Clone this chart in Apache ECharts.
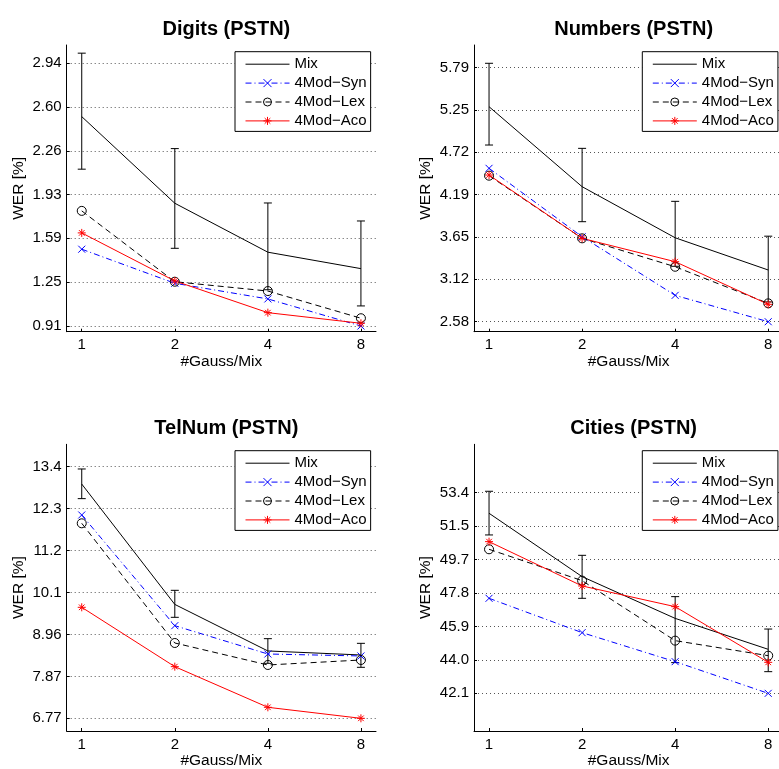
<!DOCTYPE html>
<html>
<head>
<meta charset="utf-8">
<script src="https://cdn.jsdelivr.net/npm/echarts@6/dist/echarts.min.js"></script>
<style>html,body{margin:0;padding:0;background:#fff;}#chart{width:779px;height:769px;}</style>
</head>
<body>
<div id="chart"></div>
<script>
// ---- data ----
const gaussCounts = [1, 2, 4, 8];
const legendNames = ['Mix', '4Mod\u2212Syn', '4Mod\u2212Lex', '4Mod\u2212Aco'];
const panelTitles = ['Digits (PSTN)', 'Numbers (PSTN)', 'TelNum (PSTN)', 'Cities (PSTN)'];
const xAxisName = '#Gauss/Mix';
const yAxisName = 'WER [%]';

const digitsMix = [2.527, 1.858, 1.48, 1.353];
const digitsMixLow = [2.121, 1.51, 1.19, 1.065];
const digitsMixHigh = [3.017, 2.28, 1.86, 1.721];
const digitsSyn = [1.503, 1.24, 1.119, 0.91];
const digitsLex = [1.799, 1.252, 1.18, 0.97];
const digitsAco = [1.629, 1.258, 1.013, 0.931];
const digitsTickValues = [0.91, 1.248, 1.587, 1.925, 2.263, 2.602, 2.94];
const digitsTickLabels = ['0.91', '1.25', '1.59', '1.93', '2.26', '2.60', '2.94'];
const digitsRange = [0.866, 3.08];

const numbersMix = [5.295, 4.285, 3.64, 3.233];
const numbersMixLow = [4.811, 3.843, 3.28, 2.83];
const numbersMixHigh = [5.843, 4.769, 4.1, 3.66];
const numbersSyn = [4.517, 3.653, 2.913, 2.58];
const numbersLex = [4.424, 3.633, 3.274, 2.812];
const numbersAco = [4.432, 3.633, 3.338, 2.80];
const numbersTickValues = [2.58, 3.115, 3.65, 4.185, 4.72, 5.255, 5.79];
const numbersTickLabels = ['2.58', '3.12', '3.65', '4.19', '4.72', '5.25', '5.79'];
const numbersRange = [2.454, 6.074];

const telnumMix = [12.94, 9.77, 8.544, 8.438];
const telnumMixLow = [12.556, 9.43, 8.219, 8.113];
const telnumMixHigh = [13.337, 10.141, 8.868, 8.745];
const telnumSyn = [12.125, 9.21, 8.464, 8.412];
const telnumLex = [11.906, 8.754, 8.175, 8.306];
const telnumAco = [9.694, 8.131, 7.06, 6.77];
const telnumTickValues = [6.77, 7.875, 8.98, 10.085, 11.19, 12.295, 13.4];
const telnumTickLabels = ['6.77', '7.87', '8.96', '10.1', '11.2', '12.3', '13.4'];
const telnumRange = [6.436, 13.987];

const citiesMix = [52.237, 48.67, 46.32, 44.578];
const citiesMixLow = [51.017, 47.45, 43.83, 43.32];
const citiesMixHigh = [53.476, 49.87, 47.544, 45.72];
const citiesSyn = [47.45, 45.517, 43.883, 42.1];
const citiesLex = [50.21, 48.445, 45.066, 44.22];
const citiesAco = [50.64, 48.145, 46.98, 43.846];
const citiesTickValues = [42.1, 43.983, 45.867, 47.75, 49.633, 51.517, 53.4];
const citiesTickLabels = ['42.1', '44.0', '45.9', '47.8', '49.7', '51.5', '53.4'];
const citiesRange = [39.98, 56.12];

// ---- build ----
const FONT = 'Liberation Sans';
const panels = [
  {mix: digitsMix, lo: digitsMixLow, hi: digitsMixHigh, syn: digitsSyn, lex: digitsLex, aco: digitsAco, tv: digitsTickValues, tl: digitsTickLabels, range: digitsRange},
  {mix: numbersMix, lo: numbersMixLow, hi: numbersMixHigh, syn: numbersSyn, lex: numbersLex, aco: numbersAco, tv: numbersTickValues, tl: numbersTickLabels, range: numbersRange},
  {mix: telnumMix, lo: telnumMixLow, hi: telnumMixHigh, syn: telnumSyn, lex: telnumLex, aco: telnumAco, tv: telnumTickValues, tl: telnumTickLabels, range: telnumRange},
  {mix: citiesMix, lo: citiesMixLow, hi: citiesMixHigh, syn: citiesSyn, lex: citiesLex, aco: citiesAco, tv: citiesTickValues, tl: citiesTickLabels, range: citiesRange}
];
const gridPos = [
  {left: 66.7, top: 45},
  {left: 474, top: 45},
  {left: 66.7, top: 444.3},
  {left: 474, top: 444.3}
];
const GW = 309.3, GH = 286.7;

const pairs = (ys) => gaussCounts.map((g, i) => [g, ys[i]]);
const SYM_X = 'path://M0,0L10,10M10,0L0,10';
const SYM_STAR = 'path://M5,0L5,10M0,5L10,5M1.5,1.5L8.5,8.5M8.5,1.5L1.5,8.5';

function renderErr(params, api) {
  const x = api.value(0), lo = api.value(1), hi = api.value(2);
  const a = api.coord([x, lo]), b = api.coord([x, hi]);
  const cap = 4;
  const st = {stroke: '#000', lineWidth: 1};
  return {type: 'group', children: [
    {type: 'line', shape: {x1: a[0], y1: a[1], x2: b[0], y2: b[1]}, style: st},
    {type: 'line', shape: {x1: a[0] - cap, y1: a[1], x2: a[0] + cap, y2: a[1]}, style: st},
    {type: 'line', shape: {x1: b[0] - cap, y1: b[1], x2: b[0] + cap, y2: b[1]}, style: st}
  ]};
}

const grid = [], xAxis = [], yAxis = [], series = [], title = [], legend = [];
panels.forEach((p, k) => {
  const gp = gridPos[k];
  grid.push({left: gp.left, top: gp.top, width: GW, height: GH, containLabel: false, outerBoundsMode: 'none'});
  title.push({
    text: panelTitles[k], left: gp.left + GW / 2, top: gp.top - 31, textAlign: 'center',
    textStyle: {fontFamily: FONT, fontSize: 20, fontWeight: 'bold', color: '#000'}
  });
  xAxis.push({
    gridIndex: k, type: 'log', logBase: 2, min: 0.894, max: 8.95,
    name: xAxisName, nameLocation: 'middle', nameGap: 22,
    nameTextStyle: {fontFamily: FONT, fontSize: 15.5, color: '#000'},
    axisLine: {show: true, onZero: false, lineStyle: {color: '#000', width: 1}},
    axisTick: {show: true, inside: true, length: 3, customValues: gaussCounts, lineStyle: {color: '#000'}},
    axisLabel: {customValues: gaussCounts, margin: 6, fontFamily: FONT, fontSize: 15, color: '#000', formatter: (v) => String(Math.round(v))},
    splitLine: {show: false}, minorTick: {show: false}
  });
  yAxis.push({
    gridIndex: k, type: 'value', min: p.range[0], max: p.range[1],
    name: yAxisName, nameLocation: 'middle', nameGap: 40,
    nameTextStyle: {fontFamily: FONT, fontSize: 15.5, color: '#000'},
    axisLine: {show: true, onZero: false, lineStyle: {color: '#000', width: 1}},
    axisTick: {show: true, inside: true, length: 3, customValues: p.tv, lineStyle: {color: '#000'}},
    axisLabel: {
      customValues: p.tv, margin: 5, fontFamily: FONT, fontSize: 15, color: '#000',
      formatter: (v) => {
        let best = 0;
        p.tv.forEach((t, i) => { if (Math.abs(t - v) < Math.abs(p.tv[best] - v)) best = i; });
        return p.tl[best];
      }
    },
    splitLine: {show: true, lineStyle: {color: '#555', width: 1, type: [1, 3]}}
  });
  series.push({
    name: legendNames[0], type: 'line', xAxisIndex: k, yAxisIndex: k, data: pairs(p.mix),
    symbol: 'none', lineStyle: {color: '#000', width: 1}, itemStyle: {color: '#000'}, silent: true, animation: false
  });
  series.push({
    name: 'errbar', type: 'custom', xAxisIndex: k, yAxisIndex: k,
    data: gaussCounts.map((g, i) => [g, p.lo[i], p.hi[i]]),
    encode: {x: 0, y: [1, 2]}, renderItem: renderErr, silent: true, animation: false
  });
  series.push({
    name: legendNames[1], type: 'line', xAxisIndex: k, yAxisIndex: k, data: pairs(p.syn),
    symbol: SYM_X, symbolSize: 7, showAllSymbol: true,
    lineStyle: {color: '#0000ff', width: 1, type: [6, 3, 1, 3]},
    itemStyle: {color: '#0000ff', borderColor: '#0000ff', borderWidth: 1}, silent: true, animation: false
  });
  series.push({
    name: legendNames[2], type: 'line', xAxisIndex: k, yAxisIndex: k, data: pairs(p.lex),
    symbol: 'circle', symbolSize: 9, showAllSymbol: true,
    lineStyle: {color: '#000', width: 1, type: [6, 4]},
    itemStyle: {color: 'rgba(0,0,0,0)', borderColor: '#000', borderWidth: 1}, silent: true, animation: false
  });
  series.push({
    name: legendNames[3], type: 'line', xAxisIndex: k, yAxisIndex: k, data: pairs(p.aco),
    symbol: SYM_STAR, symbolSize: 8, showAllSymbol: true,
    lineStyle: {color: '#ff0000', width: 1},
    itemStyle: {color: '#ff0000', borderColor: '#ff0000', borderWidth: 1}, silent: true, animation: false
  });
  const legLeft = (k % 2 === 0) ? 235 : 642.3;
  const legTop = (k < 2) ? 51.7 : 450.7;
  legend.push({
    data: [
      {name: legendNames[0], itemStyle: {opacity: 0}},
      legendNames[1], legendNames[2], legendNames[3]
    ],
    orient: 'vertical', left: legLeft, top: legTop,
    padding: [5, 4, 3, 10], itemWidth: 44, itemHeight: 10, itemGap: 3.9,
    borderColor: '#000', borderWidth: 1, backgroundColor: '#fff', selectedMode: false,
    lineStyle: {width: 1},
    itemStyle: {borderWidth: 1},
    textStyle: {fontFamily: FONT, fontSize: 15, color: '#000'}
  });
});

const chart = echarts.init(document.getElementById('chart'), null, {renderer: 'canvas'});
chart.setOption({
  backgroundColor: '#fff', animation: false,
  title, grid, xAxis, yAxis, series, legend
});
</script>
</body>
</html>
